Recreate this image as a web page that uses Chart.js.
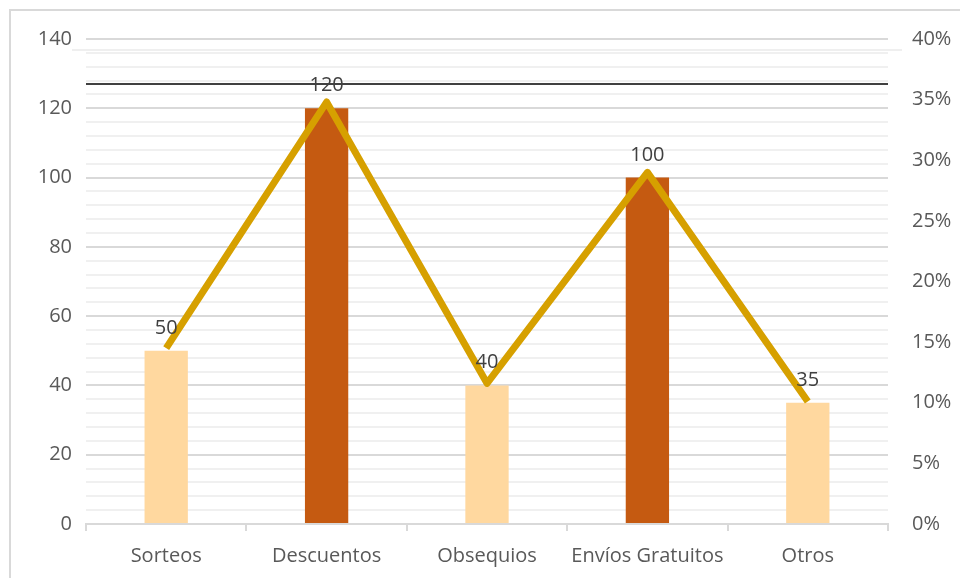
<!DOCTYPE html>
<html>
<head>
<meta charset="utf-8">
<script src="https://cdn.jsdelivr.net/npm/chart.js@4/dist/chart.umd.min.js"></script>
<style>
  html, body { margin: 0; padding: 0; background: #fff; }
  #wrap { width: 960px; height: 578px; }
</style>
</head>
<body>
<div id="wrap"><canvas id="chart" width="960" height="578"></canvas></div>
<script>
// categories and values
const categorias = ["Sorteos", "Descuentos", "Obsequios", "Envíos Gratuitos", "Otros"];
const cantidades = [50, 120, 40, 100, 35];
const porcentajes = [14.5, 34.8, 11.6, 29.0, 10.1];
const lineaRef = [127];

const FONT = "'Open Sans', 'DejaVu Sans', sans-serif";
const textColor = "#595959";

// frame + black reference line + value labels
const extras = {
  id: "extras",
  beforeDraw(chart) {
    const ctx = chart.ctx;
    ctx.save();
    ctx.fillStyle = "#fff";
    ctx.fillRect(0, 0, chart.width, chart.height);
    ctx.strokeStyle = "#d9d9d9";
    ctx.lineWidth = 2;
    ctx.strokeRect(10, 10, chart.width + 20, chart.height + 20);
    ctx.strokeStyle = "#efefef";
    ctx.beginPath();
    ctx.moveTo(72, 50);
    ctx.lineTo(902, 50);
    ctx.stroke();
    ctx.restore();
  },
  afterDatasetsDraw(chart) {
    const ctx = chart.ctx;
    const area = chart.chartArea;
    const y = chart.scales.y.getPixelForValue(lineaRef[0]);
    ctx.save();
    ctx.strokeStyle = "#404040";
    ctx.lineWidth = 2;
    ctx.beginPath();
    ctx.moveTo(area.left, y);
    ctx.lineTo(area.right, y);
    ctx.stroke();

    const meta = chart.getDatasetMeta(0);
    ctx.fillStyle = "#404040";
    ctx.font = "20px " + FONT;
    ctx.textAlign = "center";
    ctx.textBaseline = "alphabetic";
    meta.data.forEach((bar, i) => {
      ctx.fillText(String(cantidades[i]), bar.x, bar.y - 17);
    });
    ctx.restore();
  }
};

new Chart(document.getElementById("chart"), {
  type: "bar",
  data: {
    labels: categorias,
    datasets: [
      {
        type: "bar",
        data: cantidades,
        yAxisID: "y",
        order: 2,
        backgroundColor: ["#FFD89F", "#C55A11", "#FFD89F", "#C55A11", "#FFD89F"],
        categoryPercentage: 1,
        barPercentage: 0.27
      },
      {
        type: "line",
        data: porcentajes,
        yAxisID: "y1",
        order: 1,
        borderColor: "#D6A000",
        borderWidth: 7,
        borderJoinStyle: "round",
        borderCapStyle: "butt",
        pointRadius: 0,
        tension: 0,
        fill: false
      }
    ]
  },
  options: {
    responsive: false,
    animation: false,
    devicePixelRatio: 1,
    layout: { padding: { top: 39, left: 0, right: 0, bottom: 0 } },
    plugins: {
      legend: { display: false },
      tooltip: { enabled: false }
    },
    scales: {
      x: {
        offset: true,
        grid: {
          offset: true,
          drawOnChartArea: false,
          drawTicks: true,
          tickLength: 7,
          color: "#d9d9d9",
          lineWidth: 2
        },
        border: { display: true, color: "#d9d9d9", width: 2 },
        ticks: { color: textColor, font: { family: FONT, size: 20 }, padding: 13, maxRotation: 0 },
        afterFit(scale) { scale.height = 54; }
      },
      y: {
        position: "left",
        min: 0,
        max: 140,
        grid: {
          drawTicks: false,
          color: (c) => (c.tick && c.tick.value % 20 === 0 ? "#d9d9d9" : "#f0f0f0"),
          lineWidth: 2
        },
        border: { display: false },
        ticks: {
          stepSize: 4,
          autoSkip: false,
          padding: 14,
          color: textColor,
          font: { family: FONT, size: 20 },
          callback: (v) => (v % 20 === 0 ? v : "")
        },
        afterFit(scale) { scale.width = 86; }
      },
      y1: {
        position: "right",
        min: 0,
        max: 40,
        grid: { display: false, drawTicks: false },
        border: { display: false },
        ticks: {
          stepSize: 5,
          padding: 24,
          color: textColor,
          font: { family: FONT, size: 20 },
          callback: (v) => v + "%"
        },
        afterFit(scale) { scale.width = 72; }
      }
    }
  },
  plugins: [extras]
});
</script>
</body>
</html>
